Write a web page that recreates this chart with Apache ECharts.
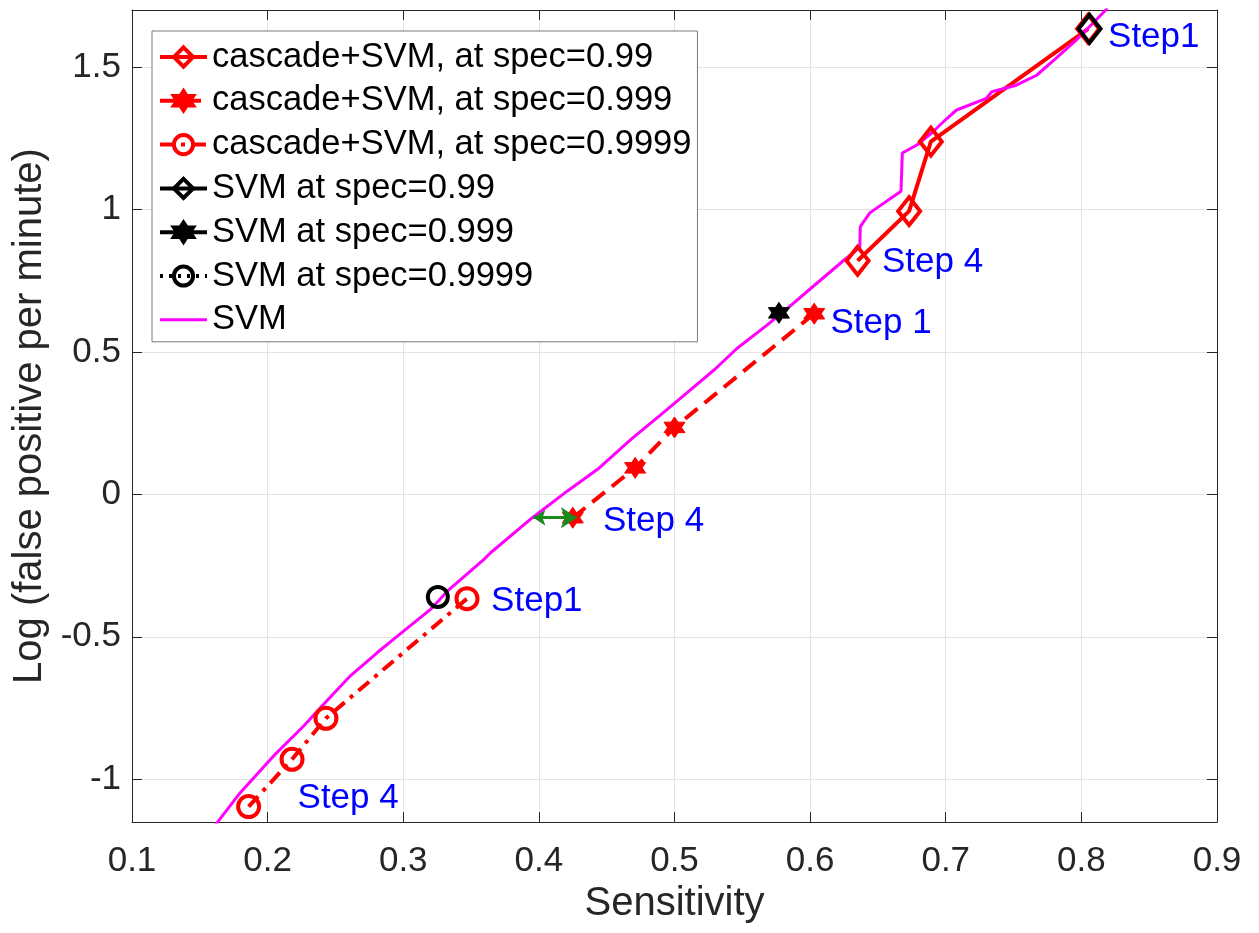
<!DOCTYPE html>
<html><head><meta charset="utf-8">
<script src="https://cdn.jsdelivr.net/npm/echarts@6/dist/echarts.min.js"></script>
<style>html,body{margin:0;padding:0;background:#fff}#c{width:1259px;height:933px}</style>
</head><body><div id="c"></div>
<script>
// ---- data ----
const cascade099   = [[0.635,0.82],[0.673,0.994],[0.689,1.238],[0.805,1.634]];
const cascade0999  = [[0.425,-0.082],[0.471,0.093],[0.500,0.235],[0.603,0.634]];
const cascade09999 = [[0.186,-1.096],[0.218,-0.93],[0.243,-0.786],[0.347,-0.366]];
const svm099   = [[0.806,1.634]];
const svm0999  = [[0.577,0.637]];
const svm09999 = [[0.3255,-0.36]];
const svmCurve = [[0.160,-1.17],[0.1638,-1.146],[0.1798,-1.047],[0.2044,-0.918],[0.2266,-0.813],
  [0.2401,-0.743],[0.2610,-0.637],[0.2807,-0.556],[0.295,-0.50],[0.3201,-0.404],[0.3325,-0.34],
  [0.3595,-0.228],[0.3644,-0.205],[0.3952,-0.082],[0.4211,0.012],[0.4433,0.088],[0.4679,0.193],
  [0.490,0.28],[0.510,0.36],[0.530,0.44],[0.546,0.512],[0.568,0.593],[0.585,0.66],[0.603,0.733],
  [0.626,0.826],[0.6366,0.866],[0.637,0.94],[0.644,0.988],[0.667,1.064],[0.668,1.198],[0.679,1.227],
  [0.690,1.27],[0.701,1.32],[0.708,1.349],[0.730,1.39],[0.734,1.413],[0.752,1.436],[0.767,1.471],
  [0.781,1.529],[0.796,1.593],[0.818,1.70],[0.822,1.73]];
const arrowPts = [[0.396,-0.082],[0.428,-0.082]];
const stepLabels = [[0.8193,1.605,'Step1'],[0.6526,0.814,'Step 4'],[0.6146,0.599,'Step 1'],
  [0.4469,-0.094,'Step 4'],[0.3644,-0.374,'Step1'],[0.2217,-1.068,'Step 4']];
const xTickLabels = ['0.1','0.2','0.3','0.4','0.5','0.6','0.7','0.8','0.9'];
const names = ['cascade+SVM, at spec=0.99','cascade+SVM, at spec=0.999','cascade+SVM, at spec=0.9999',
  'SVM at spec=0.99','SVM at spec=0.999','SVM at spec=0.9999','SVM'];

const FONT = "'Liberation Sans', Arial, Helvetica, sans-serif";
const AX = '#262626';
const hexagram = 'path://M0,-10L2.887,-5L8.66,-5L5.774,0L8.66,5L2.887,5L0,10L-2.887,5L-8.66,5L-5.774,0L-8.66,-5L-2.887,-5Z';

const chart = echarts.init(document.getElementById('c'), null, {renderer:'canvas'});
const tickCommon = {inside:true, length:10, lineStyle:{color:AX, width:1}};
const option = {
  animation:false,
  backgroundColor:'#fff',
  grid:{left:132, right:42, top:10, bottom:111, containLabel:false},
  xAxis:[{
    type:'value', min:0.1, max:0.9, interval:0.1,
    name:'Sensitivity', nameLocation:'middle', nameGap:60,
    nameTextStyle:{fontFamily:FONT, fontSize:40, color:AX},
    axisLine:{show:true, onZero:false, lineStyle:{color:AX, width:1}},
    axisTick:tickCommon,
    axisLabel:{fontFamily:FONT, fontSize:35, color:AX, margin:22,
      formatter:(v)=>xTickLabels[Math.round((v-0.1)*10)] || ''},
    splitLine:{show:true, lineStyle:{color:'#e3e3e3', width:1}}
  },{
    type:'value', min:0.1, max:0.9, interval:0.1, position:'top',
    axisLine:{show:true, onZero:false, lineStyle:{color:AX, width:1}},
    axisTick:tickCommon, axisLabel:{show:false}, splitLine:{show:false}
  }],
  yAxis:[{
    type:'value', min:-1.15, max:1.7, splitNumber:5,
    name:'Log (false positive per minute)', nameLocation:'middle', nameGap:79,
    nameTextStyle:{fontFamily:FONT, fontSize:40, color:AX},
    axisLine:{show:true, onZero:false, lineStyle:{color:AX, width:1}},
    axisTick:tickCommon,
    axisLabel:{fontFamily:FONT, fontSize:35, color:AX, margin:11, showMinLabel:false, showMaxLabel:false,
      formatter:(v)=>{const r=Math.round(v*2)/2; return Math.abs(r-v)<1e-6 ? String(r) : '';}},
    splitLine:{show:true, lineStyle:{color:'#e3e3e3', width:1}}
  },{
    type:'value', min:-1.15, max:1.7, splitNumber:5, position:'right',
    axisLine:{show:true, onZero:false, lineStyle:{color:AX, width:1}},
    axisTick:tickCommon, axisLabel:{show:false}, splitLine:{show:false}
  }],
  legend:{
    orient:'vertical', left:152, top:31,
    data:names.slice(0,6).concat([{name:names[6], icon:'path://M0,0L47,0L47,3L0,3Z',
      itemStyle:{color:'#ff00ff', borderWidth:0}}]),
    backgroundColor:'#fff', borderColor:'#7a7a7a', borderWidth:1, borderRadius:0,
    padding:[8,6,4,6],
    itemWidth:47, itemHeight:24, itemGap:7.8,
    lineStyle:{width:4},
    itemStyle:{borderWidth:4},
    textStyle:{fontFamily:FONT, fontSize:34.5, color:'#000', lineHeight:36},
    selectedMode:false
  },
  series:[
    {name:names[0], type:'line', data:cascade099, symbol:'diamond', symbolSize:[22,28],
     lineStyle:{color:'#ff0000', width:4, type:'solid'},
     itemStyle:{color:'rgba(255,255,255,0)', borderColor:'#ff0000', borderWidth:4}},
    {name:names[1], type:'line', data:cascade0999, symbol:hexagram, symbolSize:21,
     lineStyle:{color:'#ff0000', width:4, type:[16,9]},
     itemStyle:{color:'#ff0000', borderColor:'#ff0000', borderWidth:1}},
    {name:names[2], type:'line', data:cascade09999, symbol:'circle', symbolSize:21,
     lineStyle:{color:'#ff0000', width:4, type:[14,7,4,7]},
     itemStyle:{color:'rgba(255,255,255,0)', borderColor:'#ff0000', borderWidth:4}},
    {name:names[3], type:'line', data:svm099, symbol:'diamond', symbolSize:[22,28],
     lineStyle:{color:'#000', width:4, type:'solid'},
     itemStyle:{color:'rgba(255,255,255,0)', borderColor:'#000', borderWidth:4}},
    {name:names[4], type:'line', data:svm0999, symbol:hexagram, symbolSize:21,
     lineStyle:{color:'#000', width:4, type:'solid'},
     itemStyle:{color:'#000', borderColor:'#000', borderWidth:1}},
    {name:names[5], type:'line', data:svm09999, symbol:'circle', symbolSize:20,
     lineStyle:{color:'#000', width:4, type:[3,6]},
     itemStyle:{color:'rgba(255,255,255,0)', borderColor:'#000', borderWidth:4}},
    {name:names[6], type:'line', data:svmCurve, symbol:'none', smooth:false,
     lineStyle:{color:'#ff00ff', width:3}, itemStyle:{color:'#ff00ff'}},
    {name:'arrow', type:'lines', coordinateSystem:'cartesian2d',
     data:[{coords:arrowPts}], symbol:['arrow','arrow'], symbolSize:[12,16],
     lineStyle:{color:'#1a8a1a', width:3, opacity:1}, z:5},
    {name:'labels', type:'scatter', data:stepLabels, symbolSize:1,
     itemStyle:{color:'transparent'},
     label:{show:true, position:'right', distance:0, formatter:(p)=>p.data[2],
       fontFamily:FONT, fontSize:35, color:'#0000ff', opacity:1}, z:6}
  ]
};
chart.setOption(option);
</script>
</body></html>
